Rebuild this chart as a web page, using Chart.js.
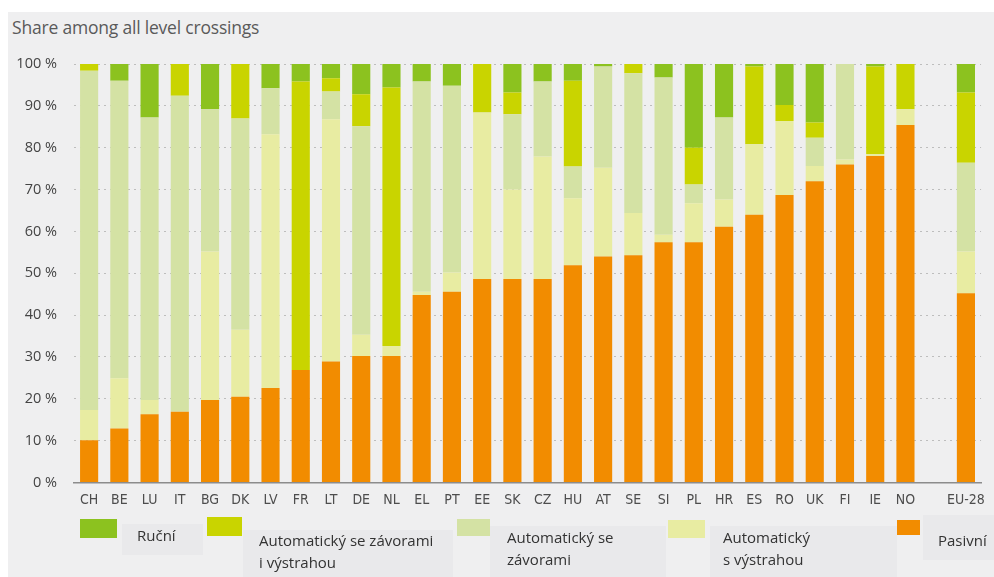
<!DOCTYPE html>
<html>
<head>
<meta charset="utf-8">
<script src="https://cdn.jsdelivr.net/npm/chart.js@4.4.1/dist/chart.umd.min.js"></script>
<style>
    body {
        margin: 0;
        width: 994px;
        height: 577px;
        overflow: hidden;
        position: relative;
        background: #ffffff;
        font-family: 'Open Sans', sans-serif;
    }
    #panel {
        position: absolute;
        left: 8px;
        top: 12px;
        right: 0;
        bottom: 0;
        background: #efeff0;
    }
    #title {
        position: absolute;
        left: 12px;
        top: 16px;
        font-size: 17.5px;
        line-height: 22px;
        letter-spacing: -0.2px;
        color: #5a5a5a;
    }
    #chart {
        position: absolute;
        left: 0;
        top: 0;
    }
    .leg-box, .leg-swatch, .leg-text {
        position: absolute;
    }
    .leg-box {
        background: #e9e9eb;
    }
    .leg-text {
        font-size: 15px;
        line-height: 22px;
        color: #333;
        white-space: pre-line;
    }
</style>
</head>
<body>
<div id="panel"></div>
<div id="title">Share among all level crossings</div>
<canvas id="chart" width="994" height="577"></canvas>
<div id="legend"></div>

<script>
// categories (empty slot separates the EU-28 average)
const countries = ['CH', 'BE', 'LU', 'IT', 'BG', 'DK', 'LV', 'FR', 'LT', 'DE', 'NL', 'EL', 'PT', 'EE', 'SK',
    'CZ', 'HU', 'AT', 'SE', 'SI', 'PL', 'HR', 'ES', 'RO', 'UK', 'FI', 'IE', 'NO', '', 'EU-28'];

// shares in % (bottom to top of each bar)
const pasivni = [10.1, 12.9, 16.3, 16.9, 19.7, 20.5, 22.6, 26.9, 28.9, 30.2, 30.2, 44.8, 45.6, 48.6, 48.6,
    48.6, 51.9, 54.0, 54.3, 57.4, 57.4, 61.1, 64.0, 68.7, 72.0, 76.0, 78.0, 85.4, null, 45.2];
const sVystrahou = [7.2, 12.0, 3.4, 0, 35.5, 16.0, 60.6, 0, 57.9, 5.1, 2.4, 0.8, 4.6, 39.8, 21.4,
    29.3, 16.0, 21.2, 10.1, 1.8, 9.3, 6.5, 16.8, 17.7, 3.6, 1.2, 0.5, 3.8, null, 10.0];
const seZavorami = [81.1, 71.1, 67.5, 75.5, 34.0, 50.5, 11.0, 0, 6.6, 49.8, 0, 50.2, 44.6, 0, 18.0,
    17.9, 7.6, 24.2, 33.4, 37.6, 4.5, 19.6, 0, 0, 6.8, 22.8, 0, 0, null, 21.2];
const zavoryVystraha = [1.6, 0, 0, 7.6, 0, 13.0, 0, 68.9, 3.2, 7.7, 61.8, 0, 0, 11.6, 5.2,
    0, 20.5, 0, 2.2, 0, 8.8, 0, 18.6, 3.8, 3.6, 0, 20.9, 10.8, null, 16.8];
const rucni = [0, 4.0, 12.8, 0, 10.8, 0, 5.8, 4.2, 3.4, 7.2, 5.6, 4.2, 5.2, 0, 6.8,
    4.2, 4.0, 0.6, 0, 3.2, 20.0, 12.8, 0.6, 9.8, 14.0, 0, 0.6, 0, null, 6.8];

const yTicks = [0, 10, 20, 30, 40, 50, 60, 70, 80, 90, 100];

const tickFont = "'DejaVu Sans Condensed', 'Liberation Sans Narrow', 'Open Sans', sans-serif";

const datasets = [
    { label: 'Pasivní', data: pasivni, backgroundColor: '#f28c00' },
    { label: 'Automatický\ns výstrahou', data: sVystrahou, backgroundColor: '#e8eca2' },
    { label: 'Automatický se\nzávorami', data: seZavorami, backgroundColor: '#d4e2a4' },
    { label: 'Automatický se závorami\ni výstrahou', data: zavoryVystraha, backgroundColor: '#c9d400' },
    { label: 'Ruční', data: rucni, backgroundColor: '#8cc21f' }
];

const chart = new Chart(document.getElementById('chart').getContext('2d'), {
    type: 'bar',
    data: {
        labels: countries,
        datasets: datasets.map(d => ({
            ...d,
            borderWidth: 0,
            barPercentage: 0.6,
            categoryPercentage: 1
        }))
    },
    options: {
        responsive: false,
        animation: false,
        layout: { padding: { left: 0, top: 64, right: 12, bottom: 0 } },
        plugins: {
            legend: { display: false },
            tooltip: { enabled: false }
        },
        scales: {
            x: {
                stacked: true,
                grid: { display: false, drawTicks: false },
                border: { display: true, color: '#8c8c8c', width: 1.5 },
                ticks: {
                    autoSkip: false,
                    maxRotation: 0,
                    padding: 9,
                    color: '#4d4d4d',
                    font: { family: tickFont, size: 14 }
                },
                afterFit: scale => { scale.height = 94.5; }
            },
            y: {
                stacked: true,
                min: 0,
                max: 100,
                afterBuildTicks: scale => { scale.ticks = yTicks.map(v => ({ value: v })); },
                ticks: {
                    padding: 17,
                    color: '#444',
                    font: { family: "'Open Sans', sans-serif", size: 14.5 },
                    callback: v => v + ' %'
                },
                grid: { color: '#bdbdbd', lineWidth: 1, drawTicks: false },
                border: { display: false, dash: [2, 4] },
                afterFit: scale => { scale.width = 74; }
            }
        }
    }
});

// legend laid out like the original, left to right from the top series down
const legendSlots = [
    { box: [122, 524, 81, 31],  swatch: [80, 519, 37, 19],  text: [137, 524] },
    { box: [243, 530, 210, 47], swatch: [207, 517, 35, 19], text: [259, 529] },
    { box: [490, 526, 176, 51], swatch: [457, 519, 33, 17], text: [507, 526] },
    { box: [710, 526, 187, 51], swatch: [668, 520, 37, 18], text: [723, 526] },
    { box: [923, 515, 71, 45],  swatch: [897, 520, 23, 15], text: [938, 529] }
];

const legend = document.getElementById('legend');
datasets.slice().reverse().forEach((d, i) => {
    const slot = legendSlots[i];
    const box = document.createElement('div');
    box.className = 'leg-box';
    box.style.cssText = `left:${slot.box[0]}px;top:${slot.box[1]}px;width:${slot.box[2]}px;height:${slot.box[3]}px;`;
    const sw = document.createElement('div');
    sw.className = 'leg-swatch';
    sw.style.cssText = `left:${slot.swatch[0]}px;top:${slot.swatch[1]}px;width:${slot.swatch[2]}px;height:${slot.swatch[3]}px;background:${d.backgroundColor};`;
    const txt = document.createElement('div');
    txt.className = 'leg-text';
    txt.style.cssText = `left:${slot.text[0]}px;top:${slot.text[1]}px;`;
    txt.textContent = d.label;
    legend.appendChild(box);
    legend.appendChild(sw);
    legend.appendChild(txt);
});
</script>
</body>
</html>
